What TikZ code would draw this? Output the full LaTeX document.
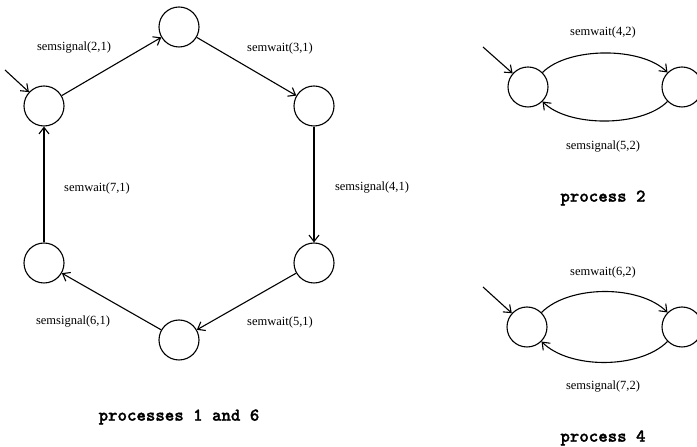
\documentclass[tikz,border=0pt]{standalone}
\usepackage{fontspec}
\setmainfont{Liberation Serif}
\newfontfamily\capfont{lmmonolt10-bold.otf}[FakeBold=1.5]
\usetikzlibrary{arrows.meta}
\begin{document}
\begin{tikzpicture}[x=1pt,y=1pt,
  st/.style={circle,draw,line width=1.1pt,minimum size=40pt,inner sep=0pt},
  lbl/.style={font=\fontsize{12.5}{14}\selectfont,inner sep=0pt},
  captxt/.style={font=\fontsize{18}{20}\selectfont\capfont,inner sep=0pt},
  arr/.style={line width=1.1pt,-{Straight Barb[length=6.5pt,width=10pt,line width=1.1pt]}},
  ln/.style={line width=1.1pt}]
\useasboundingbox (0,0) rectangle (697,447);
\clip (0,0) rectangle (697,447);
% processes 1 and 6
\node[st] (T) at (179,420) {};
\node[st] (UR) at (314,341) {};
\node[st] (LR) at (314,184) {};
\node[st] (B) at (179,107) {};
\node[st] (LL) at (44,184) {};
\node[st] (UL) at (44,341) {};
\coordinate (e1) at (5,377);
\draw[arr] (e1) -- (UL);
\draw[arr] (UL) -- (T);
\draw[arr] (T) -- (UR);
\draw[arr] (UR) -- (LR);
\draw[arr] (LR) -- (B);
\draw[arr] (B) -- (LL);
\draw[arr] (LL) -- (UL);
\node[lbl] (l1) at (74,399) {semsignal(2,1)};
\node[lbl] (l2) at (280,399) {semwait(3,1)};
\node[lbl] (l3) at (97,259) {semwait(7,1)};
\node[lbl] (l4) at (372,259) {semsignal(4,1)};
\node[lbl] (l5) at (73,125) {semsignal(6,1)};
\node[lbl] (l6) at (280,125) {semwait(5,1)};
\node[captxt] (c1) at (179,30) {processes 1 and 6};
% process 2
\node[st] (Pa) at (528,360) {};
\node[st] (Pb) at (682,360) {};
\coordinate (e2) at (483,400);
\draw[arr] (e2) -- (Pa);
\draw[arr] (Pa) to[out=45,in=135,looseness=0.75] (Pb);
\draw[arr] (Pb) to[out=-135,in=-45,looseness=0.75] (Pa);
\node[lbl] (m1) at (603,415) {semwait(4,2)};
\node[lbl] (m2) at (603,300) {semsignal(5,2)};
\node[captxt] (c2) at (603,249) {process 2};
% process 4
\node[st] (Qa) at (527,120) {};
\node[st] (Qb) at (682,120) {};
\coordinate (e3) at (483,160);
\draw[arr] (e3) -- (Qa);
\draw[arr] (Qa) to[out=45,in=135,looseness=0.8] (Qb);
\draw[arr] (Qb) to[out=-135,in=-45,looseness=0.8] (Qa);
\node[lbl] (n1) at (603,175) {semwait(6,2)};
\node[lbl] (n2) at (603,60) {semsignal(7,2)};
\node[captxt] (c3) at (603,9) {process 4};
\end{tikzpicture}
\end{document}
